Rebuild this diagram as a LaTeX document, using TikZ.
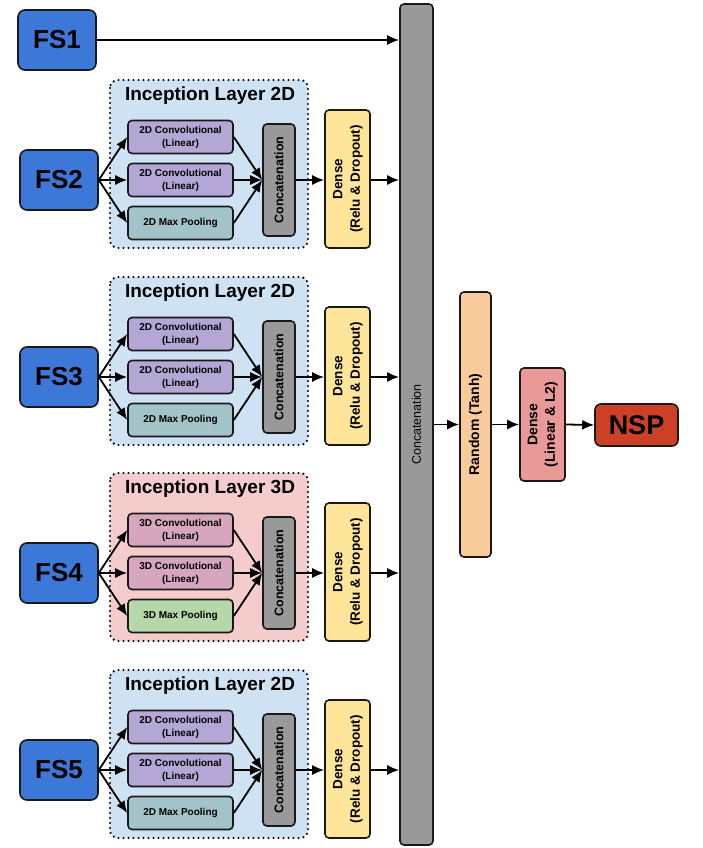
\documentclass[tikz,border=0pt]{standalone}
\usepackage{fontspec}
\setmainfont{Liberation Sans}
\usepackage{graphicx}
\usetikzlibrary{arrows.meta}
\definecolor{fsblue}{HTML}{3C78D8}
\definecolor{bg2}{HTML}{CFE2F3}
\definecolor{bg3}{HTML}{F4CCCC}
\definecolor{conv2}{HTML}{B4A7D6}
\definecolor{conv3}{HTML}{D5A6BD}
\definecolor{pool2}{HTML}{A2C4C9}
\definecolor{pool3}{HTML}{B6D7A8}
\definecolor{catgray}{HTML}{999999}
\definecolor{denseyel}{HTML}{FFE599}
\definecolor{rndor}{HTML}{F9CB9C}
\definecolor{densered}{HTML}{EA9999}
\definecolor{nspred}{HTML}{CC4125}
\newcommand{\fsz}[2]{\fontsize{#1}{#2}\selectfont\bfseries}
\begin{document}
\begin{tikzpicture}[x={(1pt,0)},y={(0,-1pt)},
  box/.style={draw=black!90, line width=1.6pt, rounded corners=4pt, inner sep=0pt, align=center},
  fsbox/.style={box, fill=fsblue, minimum width=78pt, minimum height=60pt, font=\fsz{26}{30}, rounded corners=7pt},
  layerbox/.style={line width=2.4pt, dash pattern=on 0pt off 5pt, line cap=round, rounded corners=8pt},
  small/.style={box, minimum width=105pt, minimum height=33pt, font=\fsz{10}{11}},
  arr/.style={-{Latex[length=12pt,width=10pt]}, line width=1.8pt}
]
\useasboundingbox (0,0) rectangle (702,848);

% big concatenation bar
\node[box, fill=catgray, minimum width=33pt, minimum height=841pt] (bar) at (416.5,424.5)
  {\rotatebox{90}{\fsz{12.5}{15}\mdseries Concatenation}};

% FS1
\node[fsbox] (fs1) at (57,40) {FS1};
\draw[arr] (fs1.east) -- (fs1.east -| bar.west);

\foreach \i/\c/\d/\bg/\cv/\pl in {2/180/2D/bg2/conv2/pool2, 3/377/2D/bg2/conv2/pool2, 4/573/3D/bg3/conv3/pool3, 5/770/2D/bg2/conv2/pool2}{
  \fill[\bg, rounded corners=8pt] (110,\c-100) rectangle (308,\c+68);
  \draw[layerbox] (110,\c-100) rectangle (308,\c+68);
  \node[font=\fsz{19}{22}] (title\i) at (210,\c-84) {Inception Layer \d};
  \node[fsbox] (fs\i) at (59,\c) {FS\i};
  \node[small, fill=\cv] (ca\i) at (180.5,\c-43) {\d\ Convolutional\\[2pt](Linear)};
  \node[small, fill=\cv] (cb\i) at (180.5,\c) {\d\ Convolutional\\[2pt](Linear)};
  \node[small, fill=\pl] (mp\i) at (180.5,\c+43) {\d\ Max Pooling};
  \node[box, fill=catgray, minimum width=32pt, minimum height=112pt] (cc\i) at (279,\c)
    {\rotatebox{90}{\fsz{12.5}{15}Concatenation}};
  \node[box, fill=denseyel, minimum width=45pt, minimum height=138pt] (de\i) at (347.5,\c-1)
    {\rotatebox{90}{\fsz{13.5}{17.5}\begin{tabular}{@{}c@{}}Dense\\(Relu \& Dropout)\end{tabular}}};
  \draw[arr] (fs\i.east) -- (ca\i.west);
  \draw[arr] (fs\i.east) -- (cb\i.west);
  \draw[arr] (fs\i.east) -- (mp\i.west);
  \draw[arr] (ca\i.east) -- (cc\i.west);
  \draw[arr] (cb\i.east) -- (cc\i.west);
  \draw[arr] (mp\i.east) -- (cc\i.west);
  \draw[arr] (cc\i.east) -- (cc\i.east -| de\i.west);
  \draw[arr] (cc\i.east -| de\i.east) -- (cc\i.east -| bar.west);
}

% right part
\node[box, fill=rndor, minimum width=31pt, minimum height=265pt] (rnd) at (475.5,424.5)
  {\rotatebox{90}{\fsz{14}{16}Random (Tanh)}};
\node[box, fill=densered, minimum width=45pt, minimum height=113pt] (dl) at (542.5,424.5)
  {\rotatebox{90}{\fsz{14}{17.5}\begin{tabular}{@{}c@{}}Dense\\(Linear \& L2)\end{tabular}}};
\node[box, fill=nspred, minimum width=83pt, minimum height=42pt, rounded corners=6pt, font=\fsz{27}{30}] (nsp) at (636.5,425) {NSP};
\draw[arr] (bar.east |- rnd.west) -- (rnd.west);
\draw[arr] (rnd.east) -- (dl.west);
\draw[arr] (dl.east) -- (nsp.west);
\end{tikzpicture}
\end{document}
